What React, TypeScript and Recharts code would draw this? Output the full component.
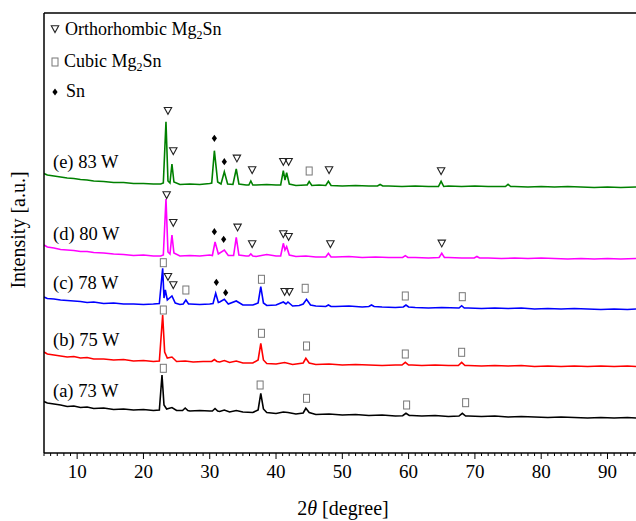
import React from 'react';
import { ComposedChart, Line, Scatter, XAxis, YAxis, ReferenceLine } from 'recharts';

type Pt = [number, number];

// stacked XRD patterns (2θ, intensity incl. stacking offset)
const pattern73W: Pt[] = [
  [5.0, 51.5], [5.5, 50], [6.5, 49], [7.5, 48], [8.5, 46.5], [9.5, 47], [10.5, 45.5], [11.5, 46],
  [12.5, 44.5], [14, 45], [15.5, 43.5], [17, 44], [18.5, 43], [20, 43.5], [21.5, 42.5], [22.4, 43],
  [22.8, 78], [23.1, 48], [23.5, 44], [24.3, 45.5], [25, 42.5], [25.9, 42.5], [26.3, 45], [26.7, 42.5],
  [27, 42], [28.5, 42.5], [30, 42], [30.4, 42], [30.8, 44.5], [31.2, 42], [31.5, 41.5], [32.2, 43],
  [33, 41], [34.0, 42.5], [35, 41], [36.5, 40.5], [37.3, 43], [37.7, 59.7], [38.1, 44], [38.6, 40.5],
  [40, 39.5], [41.1, 41], [41.8, 40.5], [43, 39], [44.1, 40], [44.5, 44.7], [45, 40.5], [46, 38.5],
  [48, 39], [50, 38], [52, 38.5], [54, 37.5], [56, 38], [58, 37], [59.1, 37.3], [59.6, 39.7],
  [60.1, 37.5], [60.5, 37.5], [62, 37], [64, 37.5], [66, 36.5], [67.6, 37], [68.1, 39.7], [68.6, 37],
  [69, 37], [71, 36.5], [73, 37], [75, 36], [77, 36.5], [79, 36], [81, 35.5], [83, 36], [85, 35.5],
  [87, 35], [89, 35.5], [91, 35], [93, 35.5], [94.3, 35],
];

const pattern75W: Pt[] = [
  [5.0, 101], [5.5, 99], [6.5, 98], [7.5, 97], [8.5, 96], [9.5, 96.5], [10.5, 95], [11.5, 95.5],
  [12.5, 94], [14, 94], [15.5, 93], [17, 93.5], [18.5, 92], [20, 92.5], [21.5, 91.5], [22.4, 92],
  [22.9, 138], [23.2, 101], [23.6, 95], [24.3, 96], [25, 91.5], [26.3, 92], [27.5, 91], [29, 91.5],
  [30.3, 91.5], [30.7, 93.5], [31.1, 91.5], [31.5, 91], [32.2, 92.5], [33, 90.5], [34.0, 92], [35, 90],
  [36.5, 90], [37.3, 93], [37.7, 109.7], [38.1, 93], [38.6, 89.5], [40, 89], [41.3, 90.5], [42.5, 88.5],
  [44.1, 90], [44.5, 94.7], [45, 90], [46, 88.5], [48, 89], [50, 88], [52, 88.5], [54, 88], [56, 87.5],
  [58, 88], [59.0, 88], [59.5, 90.7], [60.0, 88], [60.5, 88], [62, 87.5], [64, 88], [66, 87.5],
  [67.5, 87.5], [68.0, 90.7], [68.5, 87.5], [69, 87.5], [71, 87], [73, 87.5], [75, 87], [77, 87.5],
  [79, 86.5], [81, 87], [83, 86.5], [85, 87], [87, 86.5], [89, 87], [91, 86.5], [93, 87], [94.3, 86.5],
];

const pattern78W: Pt[] = [
  [5.0, 156], [5.5, 154.5], [6.5, 154], [7.5, 153], [8.5, 152.5], [9.5, 152], [10.5, 151.5],
  [11.5, 150.5], [12.5, 151], [14, 149.5], [15.5, 150], [17, 149], [18.5, 149], [20, 148.5],
  [21.5, 149], [22.4, 149.5], [22.9, 184.7], [23.1, 155], [23.3, 163], [23.6, 153], [24.3, 157],
  [24.8, 150], [25.5, 148.5], [26.0, 149], [26.4, 153], [26.8, 149], [27, 149], [28.5, 148.5],
  [30, 149], [30.5, 149.5], [30.9, 159.7], [31.3, 150.5], [31.5, 151], [32.2, 153.7], [32.8, 149],
  [34.0, 152], [35, 148], [36.5, 148], [37.3, 150], [37.7, 166.3], [38.1, 150], [38.6, 147.5],
  [40, 148], [41.1, 151], [41.5, 149], [41.8, 151], [42.5, 147], [43.5, 147.5], [44.1, 149],
  [44.6, 153.7], [45.2, 148], [46, 147], [47.5, 146.5], [47.9, 148], [48.3, 146.5], [49, 146.5],
  [51, 147], [53, 146], [54.0, 146.5], [54.4, 148], [54.8, 146.5], [56, 146], [58, 145.5],
  [59.2, 146], [59.6, 148], [60.0, 146], [61, 145.5], [63, 145], [65, 145.5], [67.6, 145],
  [68.0, 147.3], [68.4, 145], [69, 145], [71, 144.5], [73, 145], [75, 144.5], [77, 145], [79, 144],
  [81, 144.5], [83, 144], [85, 144.5], [87, 144], [89, 143.5], [91, 144], [93, 143.5], [94.3, 144],
];

const pattern80W: Pt[] = [
  [5.0, 208], [5.5, 206], [6.5, 205], [7.5, 203.5], [8.5, 203], [9.5, 202.5], [10.5, 201.5],
  [11.5, 201.5], [12.5, 200.5], [14, 200], [15.5, 199], [17, 198.5], [18.5, 197.5], [20, 198],
  [21.5, 197], [22.6, 197], [23.0, 198], [23.4, 254], [23.7, 201], [24.0, 199], [24.3, 218],
  [24.6, 200], [25.5, 197], [27, 197.5], [28.5, 197], [30, 198], [30.4, 197.5], [30.8, 211],
  [31.3, 199], [32.2, 203], [32.8, 197.5], [33.6, 197.5], [34.0, 215.7], [34.4, 198], [35.5, 197],
  [35.9, 197], [36.2, 199], [36.5, 197], [37, 196.5], [38.6, 198.5], [40, 197], [40.7, 197],
  [41.1, 209.7], [41.35, 203], [41.6, 206.3], [42, 198], [43, 196.5], [44.5, 197], [46, 196],
  [47.5, 196], [47.9, 199.7], [48.3, 196], [49, 196], [51, 196.5], [53, 195.5], [55, 196],
  [57, 195.5], [59.1, 195.5], [59.5, 197.3], [59.9, 195.5], [61, 195.5], [63, 195], [64.6, 195.5],
  [65.0, 199.7], [65.4, 195.5], [66, 195.5], [68, 195], [69.9, 195], [70.3, 196.5], [70.7, 195],
  [72, 195], [74, 194.5], [76, 195], [78, 194.5], [80, 195], [82, 194.5], [84, 194], [86, 194.5],
  [88, 194], [90, 194.5], [92, 194], [94.3, 194.5],
];

const pattern83W: Pt[] = [
  [5.0, 279.5], [5.5, 278], [6.5, 277], [7.5, 276], [8.5, 275], [9.5, 274.5], [10.5, 273.5],
  [11.5, 273], [12.5, 272], [14, 271.5], [15.5, 270.5], [17, 270.5], [18.5, 269.5], [20, 269.5],
  [21.5, 269], [22.6, 269], [23.0, 270], [23.4, 331.3], [23.7, 272], [24.0, 270], [24.3, 289],
  [24.6, 271], [25.5, 268.5], [27, 269], [28.5, 268.5], [30, 269.5], [30.3, 270], [30.7, 302.3],
  [31.2, 271], [31.7, 269], [32.2, 281.3], [32.7, 269], [33.5, 268.5], [34.0, 284], [34.4, 269],
  [35.5, 268], [35.9, 268], [36.2, 272], [36.5, 268], [37, 268], [38.6, 268.5], [40, 268],
  [40.7, 268], [41.1, 282.3], [41.35, 273], [41.6, 280.3], [42, 269], [43, 267.5], [44.5, 268],
  [44.7, 268], [45.0, 271.5], [45.4, 267.5], [46.5, 268], [47.5, 267.5], [47.9, 271.7],
  [48.3, 267.5], [50, 267], [52, 267.5], [54, 267], [55.3, 267], [55.7, 268.5], [56.1, 267],
  [57, 267], [59, 266.5], [61, 267], [63, 266.5], [64.5, 266.5], [64.9, 271.7], [65.3, 266.5],
  [66, 267], [68, 266.5], [70, 267], [72, 266.5], [74.6, 266.5], [75.0, 268.7], [75.4, 266.5],
  [76, 266.5], [78, 266], [80, 266.5], [82, 266], [84, 266.5], [86, 266], [88, 265.5], [90, 266],
  [92, 265.5], [94.3, 266],
];

// phase markers (2θ, height)
const orthoMarks: Pt[] = [
  [23.7, 342.3], [24.5, 302], [34.1, 294.7], [36.4, 283], [41.1, 291.3], [41.9, 291.3], [48.0, 283], [64.9, 282],
  [23.5, 258], [24.5, 230.3], [34.2, 225.7], [36.4, 209], [41.1, 219], [41.9, 216.3], [48.2, 209], [65.0, 209.7],
  [23.7, 176.3], [24.5, 168], [41.3, 161.3], [42.0, 161.3],
];
const cubicMarks: Pt[] = [
  [45.0, 282],
  [23.0, 190.3], [26.4, 163], [37.8, 173.7], [44.4, 164.7], [59.5, 157], [68.1, 156.3],
  [23.0, 143], [37.8, 119.7], [44.6, 107], [59.5, 99], [68.0, 100.7],
  [23.0, 84.7], [37.6, 68], [44.6, 54.7], [59.7, 48], [68.6, 50.3],
];
const snMarks: Pt[] = [
  [30.7, 314.7], [32.2, 291.3],
  [30.7, 221.3], [32.1, 213.7],
  [31.0, 170.7], [32.4, 160.3],
];

const sampleNames = ['(a) 73 W', '(b) 75 W', '(c) 78 W', '(d) 80 W', '(e) 83 W'];
const sampleColors = ['#000000', '#ff0000', '#0000ff', '#ff00ff', '#008000'];
const patterns = [pattern73W, pattern75W, pattern78W, pattern80W, pattern83W];
const majorTicks = [10, 20, 30, 40, 50, 60, 70, 80, 90];
const allTicks = Array.from({ length: 90 }, (_, i) => i + 5);

const serif = "'Liberation Serif', 'Times New Roman', serif";
const toPts = (arr: Pt[]) => arr.map(([x, y]) => ({ x, y }));

const Tri = ({ cx, cy }: any) => (
  <polygon
    points={`${cx - 3.7},${cy - 3.2} ${cx + 3.7},${cy - 3.2} ${cx},${cy + 3.6}`}
    fill="none" stroke="#222" strokeWidth={1.1}
  />
);
const Sq = ({ cx, cy }: any) => (
  <rect x={cx - 3} y={cy - 4} width={6} height={8} fill="none" stroke="#777" strokeWidth={1} />
);
const Dia = ({ cx, cy }: any) => (
  <polygon points={`${cx},${cy - 3.6} ${cx + 2.6},${cy} ${cx},${cy + 3.6} ${cx - 2.6},${cy}`} fill="#000" />
);

const AxisTick = (props: any) => {
  const { x, y, payload } = props;
  const v = payload.value;
  const major = majorTicks.includes(v);
  return (
    <g>
      <line x1={x} x2={x} y1={y} y2={y + (major ? 6 : 3)} stroke="#000" strokeWidth={1} />
      {major && (
        <text x={x} y={y + 25} textAnchor="middle" fontSize={19} fontFamily={serif} fill="#000">
          {v}
        </text>
      )}
    </g>
  );
};

const labelBaselines = [397, 346, 288.5, 239.5, 168];

export default function App() {
  return (
    <div style={{ position: 'absolute', left: 0, top: 0, width: 636, height: 521, background: '#fff' }}>
      <ComposedChart width={636} height={521} margin={{ top: 13, right: 0, bottom: 0, left: 0 }}>
        <XAxis
          type="number"
          dataKey="x"
          domain={[5, 94.3]}
          ticks={allTicks}
          interval={0}
          tick={<AxisTick />}
          tickLine={false}
          tickSize={0}
          tickMargin={0}
          height={68}
          axisLine={{ stroke: '#000', strokeWidth: 1.5 }}
          allowDataOverflow
        />
        <YAxis
          type="number"
          domain={[0, 440]}
          width={44}
          tick={false}
          tickLine={false}
          axisLine={{ stroke: '#000', strokeWidth: 1.5 }}
        />
        <ReferenceLine y={440} stroke="#000" strokeWidth={1.5} />
        {patterns.map((p, i) => (
          <Line
            key={sampleNames[i]}
            data={toPts(p)}
            dataKey="y"
            type="linear"
            stroke={sampleColors[i]}
            strokeWidth={1.6}
            dot={false}
            isAnimationActive={false}
          />
        ))}
        <Scatter data={toPts(orthoMarks)} dataKey="y" shape={Tri} isAnimationActive={false} />
        <Scatter data={toPts(cubicMarks)} dataKey="y" shape={Sq} isAnimationActive={false} />
        <Scatter data={toPts(snMarks)} dataKey="y" shape={Dia} isAnimationActive={false} />
      </ComposedChart>
      <svg
        width={636}
        height={521}
        style={{ position: 'absolute', left: 0, top: 0, pointerEvents: 'none' }}
        fontFamily={serif}
      >
        <Tri cx={55} cy={29} />
        <text x={65} y={35} fontSize={18}>
          Orthorhombic Mg<tspan fontSize={12} dy={4}>2</tspan><tspan dy={-4}>Sn</tspan>
        </text>
        <Sq cx={55} cy={62} />
        <text x={64} y={67} fontSize={18}>
          Cubic Mg<tspan fontSize={12} dy={4}>2</tspan><tspan dy={-4}>Sn</tspan>
        </text>
        <Dia cx={55} cy={92} />
        <text x={66} y={97} fontSize={18}>Sn</text>
        {sampleNames.map((n, i) => (
          <text key={n} x={53} y={labelBaselines[i]} fontSize={18.5}>{n}</text>
        ))}
        <text x={343} y={515} fontSize={20} textAnchor="middle">
          2<tspan fontStyle="italic">θ</tspan> [degree]
        </text>
        <text x={25} y={230} fontSize={20} textAnchor="middle" transform="rotate(-90 25 230)">
          Intensity [a.u.]
        </text>
      </svg>
    </div>
  );
}
